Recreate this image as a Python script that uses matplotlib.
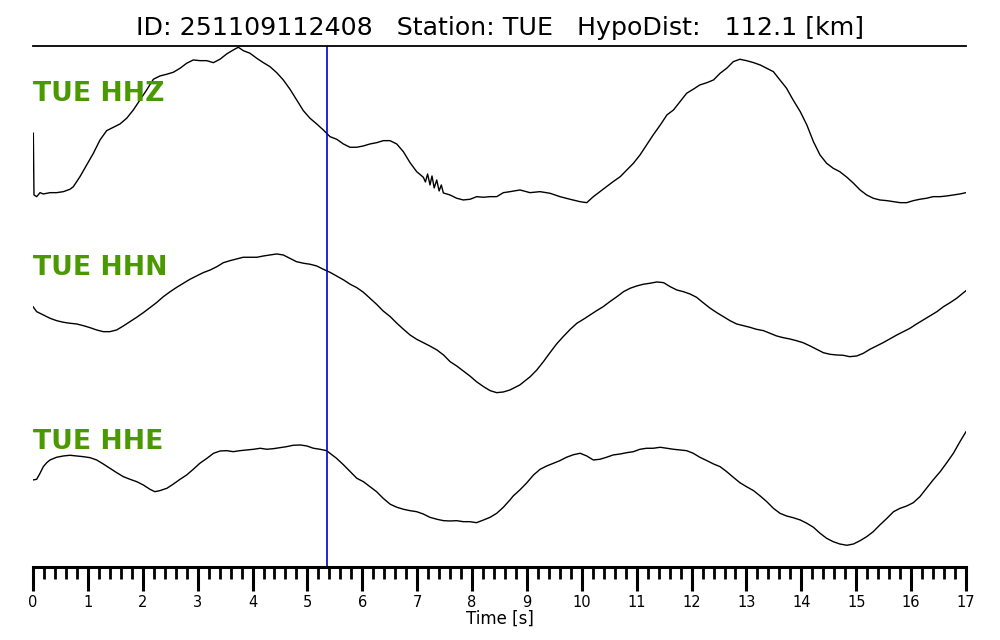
import matplotlib
matplotlib.use("Agg")
import matplotlib.pyplot as plt
from matplotlib.ticker import MultipleLocator

# ---------------- data ----------------
event_id = "251109112408"
station = "TUE"
hypo_dist_km = 112.1
pick_time = 5.357  # s, blue marker

channels = ["TUE HHZ", "TUE HHN", "TUE HHE"]

hhz_t = [0.0, 0.006, 0.018, 0.067, 0.128, 0.188, 0.31, 0.43, 0.553, 0.674, 0.735, 0.856,
         0.978, 1.10, 1.221, 1.342, 1.464, 1.585, 1.707, 1.828, 1.95, 2.071, 2.193, 2.314,
         2.436, 2.557, 2.679, 2.80, 2.921, 3.043, 3.165, 3.286, 3.407, 3.529, 3.65, 3.741,
         3.832, 3.954, 4.076, 4.197, 4.318, 4.44, 4.561, 4.683, 4.805, 4.926, 5.047, 5.169,
         5.29, 5.412, 5.534, 5.655, 5.776, 5.898, 6.019, 6.141, 6.263, 6.383, 6.505, 6.627,
         6.748, 6.87, 6.991, 7.112, 7.15, 7.19, 7.234, 7.27, 7.31, 7.356, 7.40, 7.44, 7.477,
         7.598, 7.72,
         7.841, 7.963, 8.085, 8.205, 8.327, 8.449, 8.57, 8.692, 8.874, 9.056, 9.238, 9.42,
         9.603, 9.785, 9.967, 10.09, 10.21, 10.33, 10.45, 10.57, 10.70, 10.82, 10.94, 11.06,
         11.18, 11.30, 11.43, 11.55, 11.67, 11.79, 11.91, 12.03, 12.15, 12.28, 12.40, 12.52,
         12.64, 12.76, 12.88, 13.00, 13.13, 13.25, 13.37, 13.49, 13.61, 13.73, 13.85, 13.98,
         14.10, 14.22, 14.34, 14.46, 14.58, 14.70, 14.83, 14.95, 15.07, 15.19, 15.31, 15.43,
         15.56, 15.68, 15.80, 15.92, 16.04, 16.16, 16.28, 16.40, 16.53, 16.65, 16.77, 16.89,
         17.0]
hhz_amp = [-1.0, -1.3, -63.0, -64.7, -60.7, -62.0, -60.7, -60.7, -59.7, -57.3, -54.7, -44.7,
           -33.0, -21.3, -8.0, 1.3, 4.7, 8.0, 13.7, 22.0, 32.0, 42.0, 52.7, 56.0,
           57.7, 59.7, 63.7, 68.7, 72.0, 71.3, 71.3, 69.3, 72.7, 78.0, 82.0, 84.7,
           81.3, 78.7, 73.7, 69.3, 65.3, 59.3, 52.0, 42.7, 32.0, 21.3, 13.7, 8.0,
           2.0, -4.7, -7.3, -12.0, -15.3, -15.3, -14.0, -12.0, -10.7, -8.7, -8.7, -12.0,
           -19.7, -30.7, -39.7, -45.3, -50.0, -42.0, -53.0, -44.0, -56.0, -48.0, -59.0, -53.0,
           -61.0, -63.0, -66.3,
           -68.0, -67.3, -64.7, -65.3, -64.7, -64.7, -60.7, -59.7, -58.0, -60.7, -59.7, -61.3,
           -64.7, -67.3, -69.7, -70.7, -64.7, -59.7, -54.7, -49.7, -44.7, -38.0, -31.3, -23.0,
           -13.0, -3.0, 7.0, 17.0, 22.0, 30.3, 38.7, 42.7, 47.0, 49.3, 52.0, 58.7,
           63.7, 70.3, 72.7, 71.3, 69.3, 67.0, 63.7, 60.3, 52.0, 43.7, 32.0, 20.3,
           7.0, -9.7, -23.0, -31.3, -36.3, -39.7, -45.3, -51.3, -58.0, -63.0, -66.3, -68.0,
           -68.7, -69.7, -70.7, -70.7, -68.7, -67.3, -66.3, -64.7, -64.7, -64.0, -63.0, -62.0,
           -60.7]

hhn_t = [0.0, 0.067, 0.188, 0.31, 0.431, 0.553, 0.674, 0.796, 0.917, 1.039, 1.16, 1.28,
         1.40, 1.525, 1.646, 1.767, 1.89, 2.01, 2.13, 2.25, 2.375, 2.50, 2.62, 2.74, 2.86,
         2.98, 3.10, 3.23, 3.35, 3.47, 3.59, 3.71, 3.83, 3.95, 4.08, 4.20, 4.32, 4.44, 4.56,
         4.68, 4.80, 4.93, 5.05, 5.17, 5.29, 5.41, 5.53, 5.66, 5.78, 5.90, 6.02, 6.14, 6.26,
         6.38, 6.51, 6.63, 6.75, 6.87, 6.99, 7.11, 7.23, 7.36, 7.48, 7.60, 7.72, 7.84, 7.96,
         8.08, 8.21, 8.33, 8.45, 8.57, 8.69, 8.87, 9.06, 9.18, 9.30, 9.42, 9.54, 9.66, 9.79,
         9.91, 10.03, 10.15, 10.27, 10.39, 10.51, 10.64, 10.76, 10.88, 11.00, 11.12, 11.24,
         11.37, 11.49, 11.61, 11.73, 11.85, 11.97, 12.09, 12.21, 12.34, 12.46, 12.58, 12.70,
         12.82, 12.94, 13.06, 13.18, 13.31, 13.43, 13.55, 13.67, 13.79, 13.91, 14.03, 14.16,
         14.28, 14.40, 14.52, 14.64, 14.76, 14.88, 15.01, 15.13, 15.25, 15.37, 15.49, 15.62,
         15.74, 15.86, 15.98, 16.10, 16.22, 16.34, 16.47, 16.59, 16.71, 16.83, 17.0]
hhn_amp = [-0.7, -5.7, -9.0, -12.3, -14.7, -16.3, -17.3, -18.0, -19.7, -21.7, -24.0, -25.7,
           -25.7, -24.0, -20.0, -15.7, -11.3, -6.7, -1.7, 3.3, 9.3, 14.3, 18.7, 22.7, 26.7,
           30.0, 33.3, 36.0, 39.3, 43.3, 45.3, 47.0, 48.7, 48.7, 48.7, 50.0, 51.0, 52.0, 51.0,
           47.7, 44.3, 42.7, 41.7, 40.0, 36.7, 33.7, 30.0, 26.0, 21.7, 18.3, 13.7, 7.7, 1.7,
           -5.0, -10.7, -17.3, -23.3, -29.0, -33.3, -36.7, -40.0, -44.0, -49.0, -55.7, -60.0,
           -65.0, -70.0, -75.7, -80.7, -84.7, -86.7, -86.0, -84.0, -79.0, -70.7, -64.0, -55.7,
           -46.7, -38.0, -30.7, -23.3, -17.3, -13.3, -9.0, -4.7, -0.7, 4.3, 9.3, 14.3, 17.7,
           20.0, 21.7, 22.7, 24.0, 23.3, 19.3, 16.0, 14.3, 12.0, 8.7, 3.3, -2.3, -6.7, -10.7,
           -14.7, -18.0, -19.7, -21.3, -23.3, -24.7, -27.3, -30.0, -31.7, -33.0, -34.7, -36.7,
           -40.0, -43.3, -46.7, -48.3, -49.0, -49.3, -50.7, -50.0, -47.3, -43.3, -40.0, -36.7,
           -32.7, -29.0, -25.7, -22.3, -18.0, -14.0, -10.0, -5.7, -0.7, 3.3, 7.7, 15.3]

hhe_t = [0.0, 0.067, 0.128, 0.188, 0.25, 0.31, 0.43, 0.553, 0.674, 0.796, 0.917, 1.039,
         1.16, 1.28, 1.40, 1.525, 1.646, 1.767, 1.89, 2.01, 2.13, 2.22, 2.31, 2.44, 2.56,
         2.68, 2.80, 2.92, 3.04, 3.17, 3.29, 3.41, 3.53, 3.65, 3.77, 3.89, 4.02, 4.14, 4.26,
         4.38, 4.50, 4.62, 4.74, 4.87, 4.99, 5.11, 5.23, 5.35, 5.41, 5.53, 5.66, 5.78, 5.90,
         6.02, 6.14, 6.26, 6.38, 6.51, 6.63, 6.75, 6.87, 6.99, 7.11, 7.23, 7.36, 7.48, 7.60,
         7.72, 7.84, 7.96, 8.08, 8.21, 8.33, 8.45, 8.57, 8.69, 8.75, 8.87, 8.99, 9.12, 9.24,
         9.36, 9.48, 9.60, 9.72, 9.85, 9.97, 10.09, 10.21, 10.33, 10.45, 10.57, 10.70, 10.82,
         10.94, 11.06, 11.18, 11.30, 11.43, 11.55, 11.67, 11.79, 11.91, 12.03, 12.15, 12.28,
         12.40, 12.52, 12.64, 12.76, 12.88, 13.00, 13.13, 13.25, 13.37, 13.49, 13.61, 13.73,
         13.85, 13.98, 14.10, 14.22, 14.34, 14.46, 14.58, 14.70, 14.83, 14.95, 15.07, 15.19,
         15.31, 15.43, 15.56, 15.68, 15.80, 15.92, 16.04, 16.16, 16.28, 16.40, 16.53, 16.65,
         16.77, 16.89, 17.0]
hhe_amp = [0.0, 0.7, 6.7, 13.3, 17.3, 20.0, 22.7, 24.0, 24.7, 24.0, 23.3, 22.3,
           20.0, 16.0, 11.7, 7.3, 3.3, 0.7, -1.7, -5.0, -9.3, -11.7, -10.7, -8.3, -4.0,
           0.7, 5.0, 10.7, 16.7, 21.7, 26.7, 29.0, 29.3, 28.3, 29.3, 30.0, 30.7, 31.7, 30.7,
           31.3, 32.3, 33.3, 34.7, 35.0, 34.0, 31.7, 30.7, 29.3, 26.7, 21.7, 15.0, 8.3, 1.7,
           -1.7, -6.7, -11.7, -18.3, -24.3, -27.3, -29.3, -30.7, -31.7, -34.0, -37.3, -39.3,
           -40.7, -41.0, -40.7, -41.7, -41.7, -42.7, -40.0, -37.3, -33.3, -27.3, -20.0, -16.0,
           -10.0, -3.3, 5.0, 10.7, 14.0, 16.7, 19.3, 22.7, 25.3, 26.7, 24.0, 20.0, 20.7, 22.7,
           25.0, 26.0, 27.3, 28.3, 30.7, 31.7, 31.7, 32.7, 31.7, 30.7, 30.0, 29.3, 26.7, 22.7,
           19.3, 16.0, 13.3, 8.3, 2.7, -2.7, -6.7, -10.7, -16.0, -21.7, -28.3, -33.3, -36.0,
           -37.7, -40.0, -43.3, -47.3, -53.3, -58.3, -61.7, -64.0, -65.3, -64.0, -60.7, -56.7,
           -51.7, -45.0, -38.3, -31.7, -28.3, -26.0, -22.7, -16.7, -8.3, 0.0, 8.3, 17.3,
           26.7, 38.3, 48.3]

x_ticks = list(range(0, 18))

# ---------------- figure ----------------
fig = plt.figure(figsize=(10, 6.4), dpi=100)
ax = fig.add_axes([0.033, 0.1141, 0.933, 0.8141])

traces = [(hhz_t, hhz_amp), (hhn_t, hhn_amp), (hhe_t, hhe_amp)]
offsets = [5.0, 3.0, 1.0]
scale = 87.0
for (t, a), off, name in zip(traces, offsets, channels):
    ax.plot(t, [off + v / scale for v in a], color="black", lw=1.0)
    ax.text(0.0, off + 0.36, name, color="#4b9900", fontsize=19.2, fontweight="bold",
            ha="left", va="baseline")

ax.axvline(pick_time, color="#0000cc", lw=1.2)

ax.set_xlim(0, 17)
ax.set_ylim(0, 521 / 87)
ax.set_xticks(x_ticks)
ax.xaxis.set_minor_locator(MultipleLocator(0.2))
ax.set_yticks([])
for s in ["left", "right"]:
    ax.spines[s].set_visible(False)
ax.spines["top"].set_linewidth(1.3)
ax.spines["bottom"].set_linewidth(2.2)
ax.tick_params(axis="x", which="major", direction="out", length=17, width=2.2,
               labelsize=10.5, pad=3)
ax.tick_params(axis="x", which="minor", direction="out", length=8.5, width=2.0)
ax.set_xlabel("Time [s]", fontsize=12, labelpad=0)

ax.set_title(f"ID: {event_id}   Station: {station}   HypoDist:   {hypo_dist_km:.1f} [km]",
             fontsize=18.2, pad=8)

fig.savefig("out.png", dpi=100)
